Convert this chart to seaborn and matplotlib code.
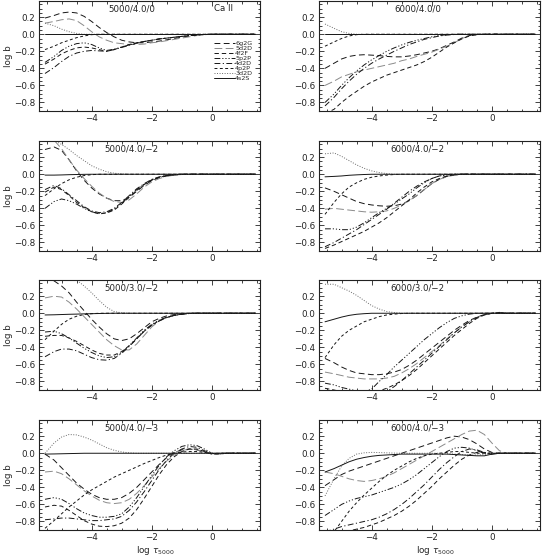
import matplotlib
matplotlib.use("Agg")
import matplotlib.pyplot as plt
from matplotlib.lines import Line2D
from matplotlib.ticker import MultipleLocator, FuncFormatter
import pandas as pd
import seaborn as sns

# optical depth grid (log tau_5000) shared by all curves
LOG_TAU = [-5.55, -5.25, -5.0, -4.75, -4.5, -4.25, -4.0, -3.75, -3.5, -3.25, -3.0, -2.75, -2.5,
           -2.25, -2.0, -1.75, -1.5, -1.25, -1.0, -0.75, -0.5, -0.25, 0.0, 0.25, 0.5, 1.45]

LEVELS = ["6g2G", "5d2D", "4f2F", "5p2P", "4d2D", "4p2P", "3d2D", "4s2S"]
MODELS = ["5000/4.0/0", "6000/4.0/0", "5000/4.0/\u22122", "6000/4.0/\u22122",
          "5000/3.0/\u22122", "6000/3.0/\u22122", "5000/4.0/\u22123", "6000/4.0/\u22123"]

# 5000/4.0/0
a_6g2G = [0.19, 0.22, 0.25, 0.26, 0.25, 0.21, 0.15, 0.08, 0.02, -0.03, -0.07, -0.09, -0.10, -0.10, -0.09, -0.08, -0.065, -0.05, -0.035, -0.02, -0.01, -0.003, 0, 0, 0, 0]
a_5d2D = [0.13, 0.15, 0.17, 0.18, 0.16, 0.10, 0.03, -0.03, -0.07, -0.10, -0.11, -0.12, -0.12, -0.115, -0.10, -0.09, -0.075, -0.06, -0.045, -0.03, -0.015, -0.005, 0, 0, 0, 0]
a_4f2F = [-0.35, -0.29, -0.23, -0.19, -0.16, -0.15, -0.16, -0.18, -0.20, -0.18, -0.15, -0.12, -0.10, -0.085, -0.07, -0.055, -0.045, -0.035, -0.025, -0.015, -0.008, -0.003, 0, 0, 0, 0]
a_5p2P = [-0.33, -0.26, -0.19, -0.14, -0.11, -0.10, -0.12, -0.16, -0.19, -0.175, -0.15, -0.125, -0.10, -0.085, -0.07, -0.055, -0.045, -0.035, -0.025, -0.015, -0.008, -0.003, 0, 0, 0, 0]
a_4d2D = [-0.46, -0.39, -0.32, -0.26, -0.22, -0.20, -0.19, -0.195, -0.20, -0.18, -0.155, -0.13, -0.105, -0.085, -0.07, -0.055, -0.045, -0.035, -0.025, -0.015, -0.008, -0.003, 0, 0, 0, 0]
a_4p2P = [-0.18, -0.14, -0.10, -0.07, -0.04, -0.02, -0.005, 0, 0, 0, 0, 0, 0, 0, 0, 0, 0, 0, 0, 0, 0, 0, 0, 0, 0, 0]
a_3d2D = [0.13, 0.10, 0.06, 0.03, 0.01, 0.0, 0, 0, 0, 0, 0, 0, 0, 0, 0, 0, 0, 0, 0, 0, 0, 0, 0, 0, 0, 0]
a_4s2S = [0, 0, 0, 0, 0, 0, 0, 0, 0, 0, 0, 0, 0, 0, 0, 0, 0, 0, 0, 0, 0, 0, 0, 0, 0, 0]

# 6000/4.0/0
b_6g2G = [-0.40, -0.34, -0.29, -0.26, -0.245, -0.24, -0.245, -0.25, -0.26, -0.265, -0.265, -0.255, -0.24, -0.22, -0.20, -0.17, -0.13, -0.09, -0.045, -0.015, -0.003, 0, 0, 0, 0, 0]
b_5d2D = [-0.60, -0.55, -0.50, -0.47, -0.44, -0.42, -0.40, -0.38, -0.36, -0.34, -0.31, -0.29, -0.26, -0.235, -0.21, -0.175, -0.14, -0.10, -0.05, -0.018, -0.004, 0, 0, 0, 0, 0]
b_4f2F = [-0.93, -0.88, -0.80, -0.73, -0.67, -0.61, -0.56, -0.52, -0.48, -0.45, -0.42, -0.39, -0.36, -0.32, -0.27, -0.21, -0.15, -0.10, -0.055, -0.02, -0.005, 0, 0, 0, 0, 0]
b_5p2P = [-0.80, -0.70, -0.60, -0.51, -0.43, -0.36, -0.30, -0.25, -0.20, -0.16, -0.125, -0.095, -0.07, -0.05, -0.03, -0.015, -0.005, 0, 0, 0, 0, 0, 0, 0, 0, 0]
b_4d2D = [-0.84, -0.74, -0.64, -0.55, -0.47, -0.40, -0.34, -0.29, -0.245, -0.20, -0.16, -0.12, -0.09, -0.06, -0.04, -0.02, -0.01, -0.003, 0, 0, 0, 0, 0, 0, 0, 0]
b_4p2P = [-0.14, -0.09, -0.05, -0.02, -0.005, 0, 0, 0, 0, 0, 0, 0, 0, 0, 0, 0, 0, 0, 0, 0, 0, 0, 0, 0, 0, 0]
b_3d2D = [0.12, 0.07, 0.03, 0.01, 0.0, 0, 0, 0, 0, 0, 0, 0, 0, 0, 0, 0, 0, 0, 0, 0, 0, 0, 0, 0, 0, 0]
b_4s2S = [0, 0, 0, 0, 0, 0, 0, 0, 0, 0, 0, 0, 0, 0, 0, 0, 0, 0, 0, 0, 0, 0, 0, 0, 0, 0]

# 5000/4.0/-2
c_6g2G = [0.29, 0.32, 0.28, 0.17, 0.04, -0.07, -0.16, -0.23, -0.28, -0.31, -0.31, -0.27, -0.20, -0.13, -0.075, -0.04, -0.02, -0.01, -0.003, 0, 0, 0, 0, 0, 0, 0]
c_5d2D = [0.46, 0.40, 0.30, 0.17, 0.05, -0.05, -0.14, -0.22, -0.28, -0.32, -0.33, -0.30, -0.23, -0.15, -0.09, -0.05, -0.025, -0.01, -0.003, 0, 0, 0, 0, 0, 0, 0]
c_4f2F = [-0.21, -0.15, -0.18, -0.25, -0.33, -0.39, -0.44, -0.465, -0.455, -0.42, -0.35, -0.27, -0.19, -0.12, -0.07, -0.035, -0.015, -0.005, 0, 0, 0, 0, 0, 0, 0, 0]
c_5p2P = [-0.40, -0.32, -0.29, -0.31, -0.35, -0.40, -0.44, -0.46, -0.45, -0.41, -0.34, -0.26, -0.18, -0.115, -0.065, -0.035, -0.015, -0.005, 0, 0, 0, 0, 0, 0, 0, 0]
c_4d2D = [-0.18, -0.13, -0.17, -0.24, -0.31, -0.38, -0.43, -0.45, -0.44, -0.40, -0.33, -0.25, -0.17, -0.11, -0.06, -0.03, -0.012, -0.004, 0, 0, 0, 0, 0, 0, 0, 0]
c_4p2P = [-0.25, -0.17, -0.11, -0.065, -0.035, -0.015, -0.005, 0, 0, 0, 0, 0, 0, 0, 0, 0, 0, 0, 0, 0, 0, 0, 0, 0, 0, 0]
c_3d2D = [0.46, 0.40, 0.35, 0.29, 0.22, 0.16, 0.10, 0.06, 0.03, 0.012, 0.004, 0, 0, 0, 0, 0, 0, 0, 0, 0, 0, 0, 0, 0, 0, 0]
c_4s2S = [-0.01, -0.01, -0.008, -0.005, -0.003, -0.001, 0, 0, 0, 0, 0, 0, 0, 0, 0, 0, 0, 0, 0, 0, 0, 0, 0, 0, 0, 0]

# 6000/4.0/-2
d_6g2G = [-0.16, -0.20, -0.24, -0.28, -0.32, -0.345, -0.36, -0.37, -0.375, -0.37, -0.35, -0.31, -0.25, -0.18, -0.11, -0.06, -0.025, -0.01, 0, 0, 0, 0, 0, 0, 0, 0]
d_5d2D = [-0.41, -0.40, -0.41, -0.42, -0.43, -0.44, -0.445, -0.44, -0.43, -0.40, -0.36, -0.31, -0.25, -0.18, -0.11, -0.06, -0.03, -0.01, 0, 0, 0, 0, 0, 0, 0, 0]
d_4f2F = [-0.87, -0.83, -0.79, -0.75, -0.71, -0.67, -0.62, -0.57, -0.51, -0.44, -0.37, -0.30, -0.22, -0.15, -0.09, -0.05, -0.02, -0.008, 0, 0, 0, 0, 0, 0, 0, 0]
d_5p2P = [-0.64, -0.64, -0.65, -0.65, -0.62, -0.57, -0.51, -0.45, -0.40, -0.35, -0.29, -0.23, -0.16, -0.10, -0.05, -0.02, -0.005, 0, 0, 0, 0, 0, 0, 0, 0, 0]
d_4d2D = [-0.85, -0.80, -0.75, -0.70, -0.65, -0.59, -0.53, -0.47, -0.41, -0.34, -0.27, -0.20, -0.14, -0.09, -0.05, -0.02, -0.008, 0, 0, 0, 0, 0, 0, 0, 0, 0]
d_4p2P = [-0.47, -0.33, -0.23, -0.15, -0.10, -0.06, -0.035, -0.02, -0.01, -0.003, 0, 0, 0, 0, 0, 0, 0, 0, 0, 0, 0, 0, 0, 0, 0, 0]
d_3d2D = [0.24, 0.25, 0.21, 0.16, 0.11, 0.07, 0.04, 0.02, 0.008, 0, 0, 0, 0, 0, 0, 0, 0, 0, 0, 0, 0, 0, 0, 0, 0, 0]
d_4s2S = [-0.03, -0.025, -0.02, -0.012, -0.007, -0.003, 0, 0, 0, 0, 0, 0, 0, 0, 0, 0, 0, 0, 0, 0, 0, 0, 0, 0, 0, 0]

# 5000/3.0/-2
e_6g2G = [0.42, 0.38, 0.32, 0.24, 0.13, 0.03, -0.07, -0.16, -0.24, -0.30, -0.32, -0.30, -0.24, -0.17, -0.10, -0.06, -0.03, -0.015, -0.005, 0, 0, 0, 0, 0, 0, 0]
e_5d2D = [0.18, 0.20, 0.19, 0.13, 0.05, -0.04, -0.13, -0.22, -0.31, -0.38, -0.43, -0.43, -0.36, -0.26, -0.16, -0.09, -0.05, -0.025, -0.01, -0.003, 0, 0, 0, 0, 0, 0]
e_4f2F = [-0.27, -0.26, -0.26, -0.29, -0.33, -0.38, -0.43, -0.47, -0.49, -0.49, -0.45, -0.38, -0.30, -0.21, -0.14, -0.085, -0.05, -0.025, -0.01, -0.003, 0, 0, 0, 0, 0, 0]
e_5p2P = [-0.22, -0.21, -0.24, -0.29, -0.35, -0.41, -0.46, -0.50, -0.52, -0.51, -0.46, -0.38, -0.29, -0.20, -0.13, -0.08, -0.045, -0.025, -0.01, -0.003, 0, 0, 0, 0, 0, 0]
e_4d2D = [-0.51, -0.45, -0.42, -0.42, -0.44, -0.48, -0.52, -0.545, -0.55, -0.53, -0.47, -0.39, -0.30, -0.21, -0.14, -0.09, -0.05, -0.025, -0.01, -0.003, 0, 0, 0, 0, 0, 0]
e_4p2P = [-0.31, -0.21, -0.13, -0.07, -0.035, -0.015, -0.005, 0, 0, 0, 0, 0, 0, 0, 0, 0, 0, 0, 0, 0, 0, 0, 0, 0, 0, 0]
e_3d2D = [0.62, 0.56, 0.49, 0.44, 0.39, 0.32, 0.24, 0.15, 0.07, 0.02, 0.005, 0, 0, 0, 0, 0, 0, 0, 0, 0, 0, 0, 0, 0, 0, 0]
e_4s2S = [-0.02, -0.018, -0.015, -0.012, -0.01, -0.007, -0.005, -0.003, -0.001, 0, 0, 0, 0, 0, 0, 0, 0, 0, 0, 0, 0, 0, 0, 0, 0, 0]

# 6000/3.0/-2
f_6g2G = [-0.53, -0.58, -0.63, -0.67, -0.70, -0.71, -0.72, -0.72, -0.71, -0.69, -0.66, -0.61, -0.55, -0.48, -0.41, -0.34, -0.27, -0.20, -0.14, -0.085, -0.045, -0.015, 0, 0.01, 0, 0]
f_5d2D = [-0.69, -0.71, -0.73, -0.75, -0.76, -0.77, -0.77, -0.77, -0.76, -0.74, -0.70, -0.65, -0.59, -0.52, -0.45, -0.38, -0.30, -0.23, -0.16, -0.10, -0.05, -0.02, 0, 0.005, 0, 0]
f_4f2F = [-0.88, -0.90, -0.92, -0.93, -0.94, -0.94, -0.93, -0.91, -0.88, -0.84, -0.79, -0.73, -0.66, -0.58, -0.50, -0.42, -0.34, -0.26, -0.19, -0.12, -0.06, -0.02, 0, 0.005, 0, 0]
f_5p2P = [-0.82, -0.84, -0.87, -0.89, -0.91, -0.92, -0.89, -0.80, -0.72, -0.63, -0.55, -0.47, -0.39, -0.31, -0.24, -0.17, -0.11, -0.06, -0.03, -0.01, 0, 0, 0, 0, 0, 0]
f_4d2D = [-0.92, -0.95, -0.98, -1.0, -1.01, -1.01, -1.0, -0.97, -0.92, -0.86, -0.79, -0.71, -0.63, -0.55, -0.47, -0.39, -0.31, -0.23, -0.16, -0.10, -0.05, -0.015, 0, 0.005, 0, 0]
f_4p2P = [-0.52, -0.37, -0.27, -0.20, -0.15, -0.10, -0.07, -0.04, -0.02, -0.01, -0.003, 0, 0, 0, 0, 0, 0, 0, 0, 0, 0, 0, 0, 0, 0, 0]
f_3d2D = [0.34, 0.34, 0.30, 0.26, 0.21, 0.15, 0.09, 0.05, 0.02, 0.008, 0, 0, 0, 0, 0, 0, 0, 0, 0, 0, 0, 0, 0, 0, 0, 0]
f_4s2S = [-0.10, -0.07, -0.045, -0.025, -0.012, -0.005, 0, 0, 0, 0, 0, 0, 0, 0, 0, 0, 0, 0, 0, 0, 0, 0, 0, 0, 0, 0]

# 5000/4.0/-3
g_6g2G = [-0.01, -0.08, -0.17, -0.26, -0.35, -0.42, -0.48, -0.52, -0.54, -0.54, -0.52, -0.47, -0.40, -0.31, -0.22, -0.13, -0.05, 0.01, 0.04, 0.05, 0.04, 0.015, -0.01, -0.005, 0, 0]
g_5d2D = [-0.22, -0.21, -0.24, -0.30, -0.37, -0.44, -0.50, -0.55, -0.58, -0.59, -0.58, -0.54, -0.47, -0.38, -0.28, -0.18, -0.09, -0.02, 0.03, 0.05, 0.04, 0.02, -0.01, 0, 0, 0]
g_4f2F = [-0.63, -0.61, -0.62, -0.67, -0.73, -0.79, -0.83, -0.855, -0.86, -0.85, -0.82, -0.76, -0.66, -0.53, -0.39, -0.25, -0.13, -0.04, 0.02, 0.05, 0.05, 0.02, -0.01, 0, 0, 0]
g_5p2P = [-0.54, -0.52, -0.54, -0.59, -0.65, -0.70, -0.73, -0.75, -0.75, -0.74, -0.71, -0.63, -0.52, -0.39, -0.26, -0.14, -0.04, 0.03, 0.08, 0.10, 0.09, 0.05, 0.0, -0.01, 0, 0]
g_4d2D = [-0.78, -0.77, -0.76, -0.76, -0.77, -0.78, -0.79, -0.79, -0.78, -0.77, -0.74, -0.67, -0.57, -0.45, -0.32, -0.19, -0.08, 0.0, 0.05, 0.08, 0.07, 0.03, 0.0, -0.01, 0, 0]
g_4p2P = [-0.88, -0.79, -0.71, -0.63, -0.56, -0.49, -0.43, -0.38, -0.33, -0.28, -0.24, -0.20, -0.16, -0.12, -0.085, -0.05, -0.02, 0.0, 0.015, 0.02, 0.02, 0.01, 0, 0, 0, 0]
g_3d2D = [0.0, 0.12, 0.19, 0.22, 0.215, 0.19, 0.155, 0.11, 0.065, 0.035, 0.015, 0.005, 0, 0, 0, 0, 0, 0, 0, 0, 0, 0, 0, 0, 0, 0]
g_4s2S = [-0.01, -0.008, -0.006, -0.004, -0.002, 0, 0, 0, 0, 0, 0, 0, 0, 0, 0, 0, 0, 0, 0, 0, 0, 0, 0, 0, 0, 0]

# 6000/4.0/-3
h_6g2G = [-0.38, -0.31, -0.25, -0.21, -0.18, -0.15, -0.12, -0.09, -0.06, -0.03, 0.0, 0.03, 0.06, 0.09, 0.12, 0.15, 0.18, 0.20, 0.19, 0.16, 0.11, 0.05, 0.01, 0.0, 0, 0]
h_5d2D = [-0.22, -0.24, -0.27, -0.30, -0.32, -0.33, -0.32, -0.30, -0.27, -0.23, -0.18, -0.13, -0.08, -0.03, 0.02, 0.07, 0.12, 0.17, 0.22, 0.26, 0.27, 0.22, 0.12, 0.03, 0, 0]
h_4f2F = [-1.0, -0.97, -0.94, -0.91, -0.89, -0.87, -0.84, -0.81, -0.77, -0.73, -0.68, -0.62, -0.55, -0.47, -0.39, -0.30, -0.22, -0.14, -0.07, -0.02, 0.01, 0.01, 0, 0, 0, 0]
h_5p2P = [-0.73, -0.66, -0.60, -0.56, -0.53, -0.51, -0.49, -0.46, -0.43, -0.40, -0.36, -0.31, -0.25, -0.18, -0.11, -0.04, 0.02, 0.06, 0.07, 0.06, 0.03, 0.0, -0.01, 0, 0, 0]
h_4d2D = [-0.92, -0.89, -0.86, -0.84, -0.82, -0.80, -0.78, -0.75, -0.71, -0.66, -0.60, -0.53, -0.45, -0.37, -0.28, -0.19, -0.11, -0.04, 0.02, 0.05, 0.04, 0.01, -0.01, 0, 0, 0]
h_4p2P = [-1.05, -0.92, -0.80, -0.68, -0.58, -0.49, -0.41, -0.33, -0.26, -0.20, -0.15, -0.10, -0.06, -0.03, -0.01, 0.0, 0.01, 0.02, 0.02, 0.01, 0, 0, 0, 0, 0, 0]
h_3d2D = [-0.50, -0.30, -0.15, -0.06, -0.01, 0.005, 0.01, 0.008, 0.005, 0.002, 0.0, 0, 0, 0, 0, 0, -0.005, -0.01, -0.015, -0.02, -0.02, -0.015, 0, 0, 0, 0]
h_4s2S = [-0.22, -0.18, -0.14, -0.10, -0.07, -0.05, -0.035, -0.025, -0.02, -0.015, -0.01, -0.01, -0.01, -0.01, -0.01, -0.01, -0.01, -0.015, -0.02, -0.025, -0.03, -0.03, -0.01, 0, 0, 0]

PANELS = [
    [a_6g2G, a_5d2D, a_4f2F, a_5p2P, a_4d2D, a_4p2P, a_3d2D, a_4s2S],
    [b_6g2G, b_5d2D, b_4f2F, b_5p2P, b_4d2D, b_4p2P, b_3d2D, b_4s2S],
    [c_6g2G, c_5d2D, c_4f2F, c_5p2P, c_4d2D, c_4p2P, c_3d2D, c_4s2S],
    [d_6g2G, d_5d2D, d_4f2F, d_5p2P, d_4d2D, d_4p2P, d_3d2D, d_4s2S],
    [e_6g2G, e_5d2D, e_4f2F, e_5p2P, e_4d2D, e_4p2P, e_3d2D, e_4s2S],
    [f_6g2G, f_5d2D, f_4f2F, f_5p2P, f_4d2D, f_4p2P, f_3d2D, f_4s2S],
    [g_6g2G, g_5d2D, g_4f2F, g_5p2P, g_4d2D, g_4p2P, g_3d2D, g_4s2S],
    [h_6g2G, h_5d2D, h_4f2F, h_5p2P, h_4d2D, h_4p2P, h_3d2D, h_4s2S],
]

# IDL-like line styles, one per level
DASHES = {
    "6g2G": (6, 3.5),
    "5d2D": (8, 3.5),
    "4f2F": (4.5, 3),
    "5p2P": (6, 2, 1.2, 2, 1.2, 2, 1.2, 2),
    "4d2D": (6, 2.5, 1.2, 2.5),
    "4p2P": (3, 2.5),
    "3d2D": (1, 1.6),
    "4s2S": "",
}
COLORS = {lv: "#151515" for lv in LEVELS}
COLORS["5d2D"] = "#8a8a8a"
COLORS["3d2D"] = "#6a6a6a"
LW = 0.7


def fmt_y(v, _):
    s = f"{v:.1f}"
    if s == "-0.0":
        s = "0.0"
    return s.replace("-", "\u2212")


def main():
    sns.set_theme(style="ticks")
    plt.rcParams["font.family"] = ["DejaVu Sans"]
    plt.rcParams["mathtext.fontset"] = "dejavusans"

    W, H = 542, 557
    fig = plt.figure(figsize=(W / 100, H / 100), dpi=100)
    col_x = [39, 319]
    row_top = [1, 141, 280, 420]
    ax_w, ax_h = 221, 110

    for i, (model, curves) in enumerate(zip(MODELS, PANELS)):
        r, c = divmod(i, 2)
        ax = fig.add_axes([col_x[c] / W, 1 - (row_top[r] + ax_h) / H, ax_w / W, ax_h / H])

        df = pd.DataFrame({
            "logtau": LOG_TAU * len(LEVELS),
            "logb": [v for vals in curves for v in vals],
            "level": [lv for lv in LEVELS for _ in LOG_TAU],
        })
        sns.lineplot(data=df, x="logtau", y="logb", hue="level", style="level",
                     hue_order=LEVELS, style_order=LEVELS, palette=COLORS,
                     dashes=DASHES, linewidth=LW, legend=False, sort=False,
                     estimator=None, ax=ax)

        ax.set_xlim(-5.75, 1.6)
        ax.set_ylim(-0.9, 0.39)
        ax.set_xticks([-4, -2, 0])
        ax.set_yticks([-0.8, -0.6, -0.4, -0.2, 0.0, 0.2])
        ax.xaxis.set_minor_locator(MultipleLocator(0.5))
        ax.yaxis.set_minor_locator(MultipleLocator(0.05))
        ax.yaxis.set_major_formatter(FuncFormatter(fmt_y))
        ax.tick_params(which="both", direction="in", top=True, right=True,
                       width=0.6, colors="#222222", labelsize=6.3, pad=2.5)
        ax.tick_params(which="major", length=3.5)
        ax.tick_params(which="minor", length=1.8)
        for sp in ax.spines.values():
            sp.set_linewidth(0.8)
            sp.set_color("#222222")

        ax.set_xlabel("log $\\tau_{5000}$" if r == 3 else "", fontsize=6.3, labelpad=1)
        ax.set_ylabel("log b" if c == 0 else "", fontsize=6.3, labelpad=1)
        if r == 3:
            ax.xaxis.set_label_coords(0.525, -0.13)

        ax.text(0.42 if c == 0 else 0.445, 0.93, model, transform=ax.transAxes,
                ha="center", va="center", fontsize=6.2, color="#222222")

        if i == 0:
            ax.text(0.835, 0.93, "Ca II", transform=ax.transAxes,
                    ha="center", va="center", fontsize=6.2, color="#222222")
            handles = [Line2D([], [], color=COLORS[lv], lw=LW,
                              dashes=DASHES[lv] if DASHES[lv] else (None, None))
                       for lv in LEVELS]
            ax.legend(handles, LEVELS, loc="upper right", bbox_to_anchor=(0.965, 0.64),
                      frameon=False, fontsize=4.6, handlelength=3.2, handletextpad=0.1,
                      labelspacing=-0.08, borderpad=0, borderaxespad=0)

    fig.savefig("out.png", dpi=100)
    plt.close(fig)


if __name__ == "__main__":
    main()
